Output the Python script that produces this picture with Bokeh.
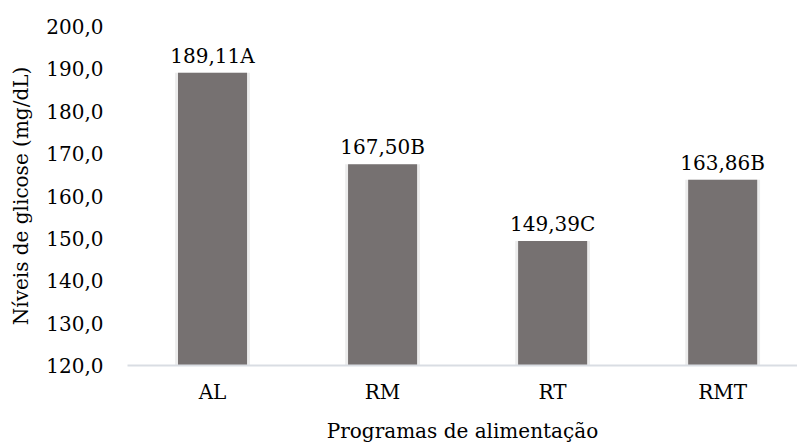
from bokeh.plotting import figure
from bokeh.models import Range1d, FixedTicker, ColumnDataSource, LabelSet
from bokeh.core.properties import value
from bokeh.embed import file_html
from bokeh.resources import INLINE

# Blood glucose by feeding programme
programs = ["AL", "RM", "RT", "RMT"]
glucose = [189.11, 167.50, 149.39, 163.86]
groups = ["A", "B", "C", "B"]
y_ticks = [120, 130, 140, 150, 160, 170, 180, 190, 200]

FONT = "DejaVu Serif"
SIZE = "20px"
BAR = "#767171"

xs = [i + 0.5 for i in range(len(programs))]
labels = [f"{v:.2f}".replace(".", ",") + g for v, g in zip(glucose, groups)]
src = ColumnDataSource(dict(x=xs, y=glucose, label=labels))

p = figure(width=797, height=446, output_backend="svg", toolbar_location=None,
           x_range=Range1d(0, 3.94), y_range=Range1d(120, 200),
           min_border_left=127, min_border_right=0, min_border_top=26,
           min_border_bottom=81)
p.outline_line_color = None
p.xgrid.visible = False
p.ygrid.visible = False

# soft halo behind each bar, then the bar itself
p.vbar(x="x", top="y", bottom=120, width=0.44, source=src,
       fill_color="#ececec", line_color=None)
p.vbar(x="x", top="y", bottom=120, width=0.406, source=src,
       fill_color=BAR, line_color=None)

p.add_layout(LabelSet(x="x", y="y", text="label", source=src,
                      text_align="center", text_baseline="alphabetic",
                      y_offset=10, text_font=value(FONT),
                      text_font_size=value(SIZE), text_color="black"))

p.xaxis.ticker = FixedTicker(ticks=xs)
p.xaxis.major_label_overrides = {x: name for x, name in zip(xs, programs)}
p.xaxis.axis_line_color = "#d9dde3"
p.xaxis.axis_line_width = 2
p.xaxis.major_tick_line_color = None
p.xaxis.minor_tick_line_color = None
p.xaxis.major_tick_out = 0
p.xaxis.major_label_standoff = 14
p.xaxis.axis_label = "Programas de alimentação"
p.xaxis.axis_label_standoff = 12

p.yaxis.ticker = FixedTicker(ticks=y_ticks)
p.yaxis.major_label_overrides = {t: f"{t:.1f}".replace(".", ",") for t in y_ticks}
p.yaxis.axis_line_color = None
p.yaxis.major_tick_line_color = None
p.yaxis.minor_tick_line_color = None
p.yaxis.major_tick_out = 0
p.yaxis.major_label_standoff = 24
p.yaxis.axis_label = "Níveis de glicose (mg/dL)"
p.yaxis.axis_label_standoff = 10

for ax in (p.xaxis, p.yaxis):
    ax.major_label_text_font = FONT
    ax.major_label_text_font_size = SIZE
    ax.major_label_text_color = "black"
    ax.axis_label_text_font = FONT
    ax.axis_label_text_font_size = SIZE
    ax.axis_label_text_font_style = "normal"
    ax.axis_label_text_color = "black"

open("out.html", "w").write(file_html(p, INLINE))
